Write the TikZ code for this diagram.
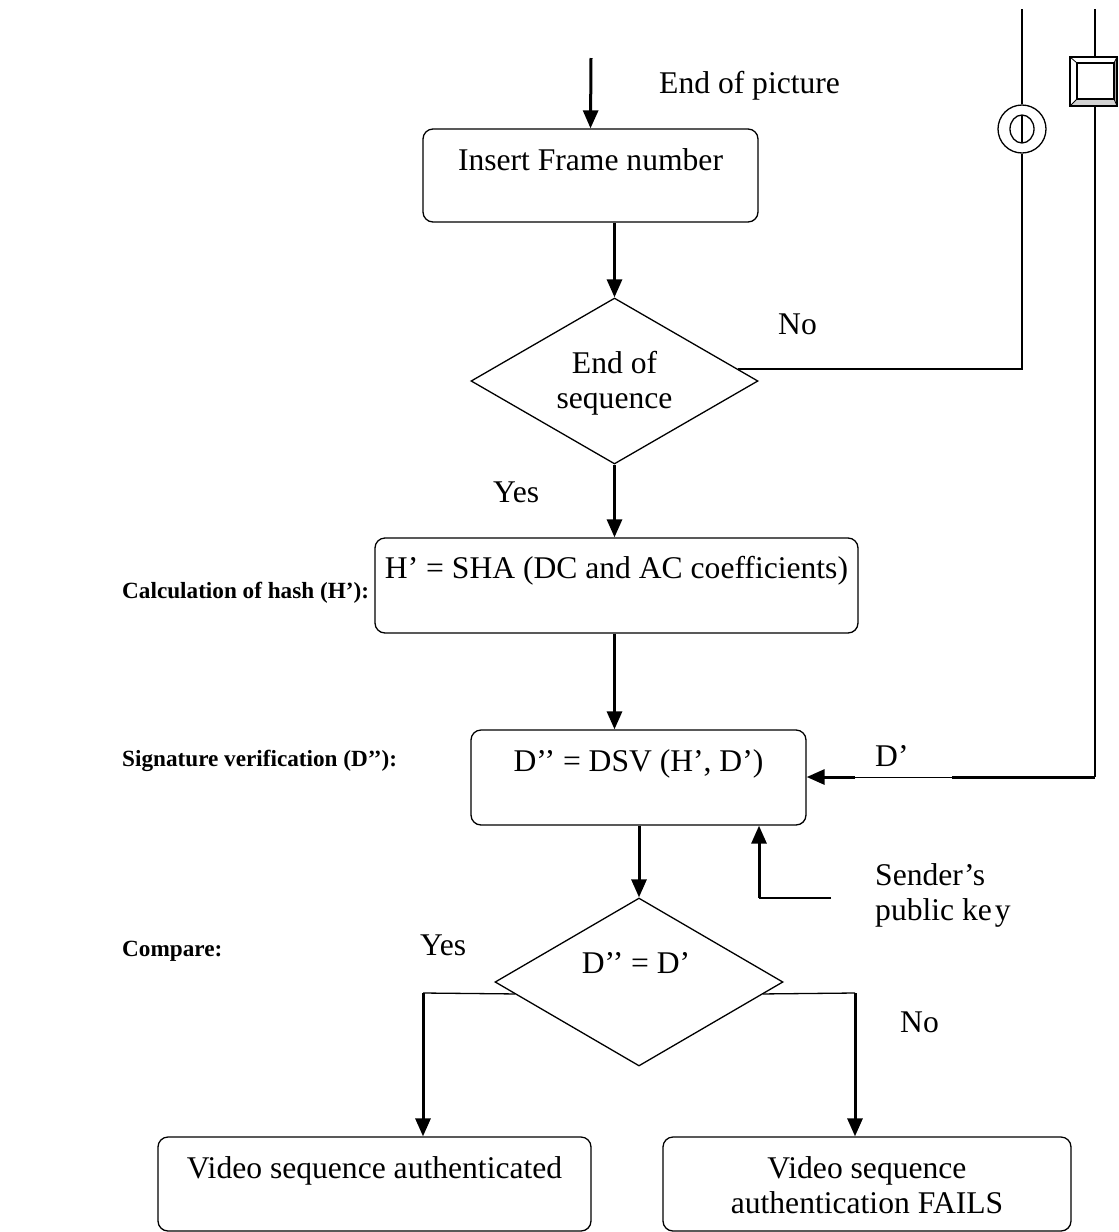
\documentclass[tikz,border=0pt]{standalone}
\usepackage{fontspec}
\setmainfont{Liberation Serif}
\usetikzlibrary{arrows.meta,shapes.geometric,calc}
\begin{document}
\begin{tikzpicture}[x=1pt,y=-1pt,
  box/.style={draw,line width=1.3pt,rounded corners=10pt,inner sep=0pt},
  decision/.style={draw,line width=1.3pt,diamond,inner sep=0pt},
  txt/.style={inner sep=0pt,anchor=base,font=\fontsize{31.6}{36}\selectfont},
  ltxt/.style={txt,anchor=base west},
  head/.style={inner sep=0pt,anchor=base west,font=\fontsize{23.2}{27}\selectfont\bfseries},
  flow/.style={line width=3pt,-{Triangle[length=18pt,width=15pt]}},
  wire/.style={line width=1.3pt},
]
\useasboundingbox (0,0) rectangle (1119,1232);

% process boxes
\node[box,minimum width=335pt,minimum height=93pt] (frame) at (590.5,175.5) {};
\node[box,minimum width=483pt,minimum height=95pt] (hash) at (616.5,585.5) {};
\node[box,minimum width=335pt,minimum height=95pt] (dsv) at (638.5,777.5) {};
\node[box,minimum width=433pt,minimum height=94pt] (ok) at (374.5,1184) {};
\node[box,minimum width=408pt,minimum height=94pt] (fail) at (867,1184) {};

% decisions
\node[decision,minimum width=287pt,minimum height=166pt] (d1) at (614.5,381) {};
\node[decision,minimum width=288pt,minimum height=168pt] (d2) at (639,982) {};

% texts inside shapes
\node[txt] (frameT) at (590.5,170) {Insert Frame number};
\node[txt] (d1a) at (614.5,373) {End of};
\node[txt] (d1b) at (614.5,408) {sequence};
\node[txt] (hashT) at (616.5,578) {H’ = SHA (DC and AC coefficients)};
\node[txt] (dsvT) at (638.5,771) {D’’ = DSV (H’, D’)};
\node[txt] (d2T) at (636,973) {D’’ = D’};
\node[txt] (okT) at (374.5,1178) {Video sequence authenticated};
\node[txt] (failA) at (867,1178) {Video sequence};
\node[txt] (failB) at (867,1213) {authentication FAILS};

% side headings
\node[head] (h1) at (122,598) {Calculation of hash (H’):};
\node[head] (h2) at (122,766) {Signature verification (D’’):};
\node[head] (h3) at (122,956) {Compare:};

% connector labels
\node[ltxt] (eop) at (659,93) {End of picture};
\node[ltxt] (no1) at (778,334) {No};
\node[ltxt] (yes1) at (493,502) {Yes};
\node[ltxt] (dlab) at (875,766) {D’};
\node[ltxt] (snd) at (875,885) {Sender’s};
\node[ltxt] (pk) at (875,920) {public ke\kern3pt y};
\node[ltxt] (yes2) at (420,955) {Yes};
\node[ltxt] (no2) at (900,1032) {No};

% main flow
\coordinate (start) at (591,58);
\draw[flow] (start) -- (frame.north);
\draw[flow] (d1.north |- frame.south) -- (d1.north);
\draw[flow] (d1.south) -- (d1.south |- hash.north);
\draw[flow] (d1.south |- hash.south) -- (d1.south |- dsv.north);
\draw[flow] (d2.north |- dsv.south) -- (d2.north);

% sender's public key
\coordinate (keyEnd) at (831,898);
\coordinate (keyCorner) at (759,898);
\draw[wire] (keyEnd) -- (keyCorner);
\draw[flow] (keyCorner) -- (keyCorner |- dsv.south);

% loop-back line with connector symbol
\node[draw,circle,line width=1.3pt,minimum size=48pt,inner sep=0pt] (ring) at (1022,129) {};
\draw[line width=1.3pt] (ring.center) ellipse [x radius=12pt,y radius=14pt];
\draw[line width=1.3pt] ($(ring.center)+(0,-14)$) -- ($(ring.center)+(0,14)$);
\coordinate (noA) at ($(d1.east)!{12/83}!(d1.north)$);
\coordinate (topA) at (1022,9);
\draw[wire] (noA) -| (ring.south);
\draw[wire] (ring.north) -- (topA);

% incoming D' line with beveled terminal
\node[draw,line width=1.3pt,fill=white,minimum width=47pt,minimum height=49pt,inner sep=0pt] (sq) at (1093.5,81.5) {};
\fill[gray!70] (1114,63) -- (1117,57) -- (1117,106) -- (1114,99) -- cycle;
\fill[gray!35] (1077,99) -- (1114,99) -- (1117,106) -- (1070,106) -- cycle;
\draw[line width=0.8pt] (1070,57) -- (1077,63) (1117,57) -- (1114,63) (1070,106) -- (1077,99) (1117,106) -- (1114,99);
\draw[line width=1.3pt] (1070,57) rectangle (1117,106);
\draw[line width=2pt] (1077,63) rectangle (1114,99);
\coordinate (topB) at (1095,9);
\coordinate (dCorner) at (1095,777);
\coordinate (gapR) at (952,777);
\coordinate (gapL) at (855,777);
\draw[wire] (topB) -- (topB |- sq.north);
\draw[wire] (topB |- sq.south) -- (dCorner);
\draw[line width=3pt] (dCorner) -- (gapR);
\draw[line width=1pt] (gapR) -- (gapL);
\draw[flow] (gapL) -- (dsv.east |- gapL);

% outcome branches
\coordinate (yesA) at ($(d2.west)!{12/85}!(d2.south)$);
\coordinate (yesB) at (423,993);
\coordinate (noB) at ($(d2.east)!{12/85}!(d2.south)$);
\coordinate (noC) at (855,993);
\draw[wire] (yesA) -- (yesB);
\draw[flow] (yesB) -- (yesB |- ok.north);
\draw[wire] (noB) -- (noC);
\draw[flow] (noC) -- (noC |- fail.north);
\end{tikzpicture}
\end{document}
